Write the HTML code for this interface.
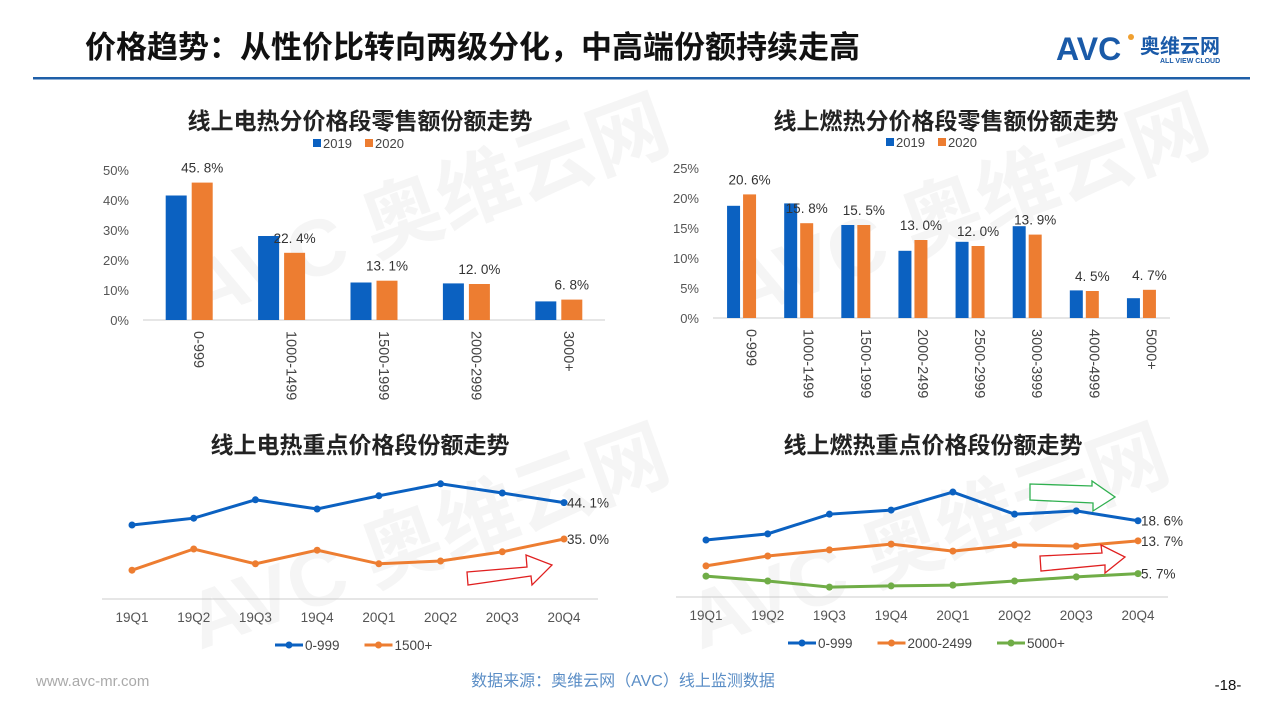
<!DOCTYPE html>
<html><head><meta charset="utf-8"><style>
html,body{margin:0;padding:0;background:#fff;width:1280px;height:720px;overflow:hidden}
svg{display:block;font-family:"Liberation Sans","Noto Sans CJK SC",sans-serif}
</style></head><body>
<svg id="s" width="1280" height="720" viewBox="0 0 1280 720">
<g fill="#e8e8e8" opacity="0.45" font-weight="bold">
<text x="200" y="320" font-size="80" transform="rotate(-20 200 320)">AVC 奥维云网</text>
<text x="740" y="320" font-size="80" transform="rotate(-20 740 320)">AVC 奥维云网</text>
<text x="200" y="650" font-size="80" transform="rotate(-20 200 650)">AVC 奥维云网</text>
<text x="700" y="650" font-size="80" transform="rotate(-20 700 650)">AVC 奥维云网</text>
</g>
<text x="85" y="58" font-size="31" font-weight="bold" fill="#111">价格趋势：从性价比转向两级分化，中高端份额持续走高</text>
<g>
<text x="1056" y="60" font-size="32" font-weight="bold" fill="#1a5aa8">AVC</text>
<circle cx="1131" cy="37" r="3" fill="#f0a030"/>
<text x="1140" y="53" font-size="20" font-weight="bold" fill="#1a5aa8">奥维云网</text>
<text x="1160" y="63" font-size="7" font-weight="bold" fill="#1a5aa8">ALL VIEW CLOUD</text>
</g>
<rect x="33" y="77" width="1217" height="2.5" fill="#1f5fa8"/>
<g id="charts"></g>
<text x="36" y="686" font-size="15" fill="#aaa">www.avc-mr.com</text>
<text x="623" y="686" font-size="16" fill="#5b8ec6" text-anchor="middle">数据来源：奥维云网（AVC）线上监测数据</text>
<text x="1228" y="690" font-size="15" fill="#111" text-anchor="middle">-18-</text>
</svg>
<script>
const tlCats=["0-999","1000-1499","1500-1999","2000-2999","3000+"];
const tl2019=[41.5,28,12.5,12.2,6.2];
const tl2020=[45.8,22.4,13.1,12.0,6.8];
const tlTicks=[0,10,20,30,40,50];
const trCats=["0-999","1000-1499","1500-1999","2000-2499","2500-2999","3000-3999","4000-4999","5000+"];
const tr2019=[18.7,19.1,15.5,11.2,12.7,15.3,4.6,3.3];
const tr2020=[20.6,15.8,15.5,13.0,12.0,13.9,4.5,4.7];
const trTicks=[0,5,10,15,20,25];
const quarters=["19Q1","19Q2","19Q3","19Q4","20Q1","20Q2","20Q3","20Q4"];
const blElec=[38.5,40.2,44.8,42.5,45.8,48.8,46.5,44.1];
const blElecHigh=[27.2,32.5,28.8,32.2,28.8,29.5,31.8,35.0];
const brGas=[13.9,15.4,20.2,21.2,25.6,20.2,21.0,18.6];
const brGasMid=[7.6,10.0,11.5,12.9,11.2,12.7,12.4,13.7];
const brGasHigh=[5.1,3.9,2.4,2.7,2.9,3.9,4.9,5.7];

const NS="http://www.w3.org/2000/svg";
const root=document.getElementById('charts');
function mk(tag,attrs,parent,text){const e=document.createElementNS(NS,tag);for(const k in attrs)e.setAttribute(k,attrs[k]);if(text!==undefined)e.textContent=text;(parent||root).appendChild(e);return e;}
const BLUE="#0b61c1",ORANGE="#ed7d31",GREEN="#70ad47";
function fmt(v){return v.toFixed(1).replace('.', '. ')+'%';}

function barChart(o){
  const g=mk('g',{});
  
  
  const t=mk('text',{x:o.tx,y:o.ty,'font-size':23,'font-weight':'bold','text-anchor':'middle',fill:'#222'},g,o.title);
  
  
  const y=v=>o.y0-v*o.ppu;
  const gw=(o.x1-o.x0)/o.cats.length;
  const x=i=>o.x0+gw*(i+0.5);
  o.ticks.forEach(tv=>{const e=mk('text',{x:o.x0-14,y:y(tv)+5,'font-size':13,'text-anchor':'end',fill:'#555'},g,tv+'%');
    
    });
  const ax=mk('line',{x1:o.x0,x2:o.x1,y1:o.y0,y2:o.y0,stroke:'#ccc','stroke-width':1},g);
  
  
  o.cats.forEach((c,i)=>{
    const cx=x(i);
    const b1=mk('rect',{x:cx-o.gap/2-o.bw,y:y(o.a[i]),width:o.bw,height:o.a[i]*o.ppu,fill:BLUE},g);
    
    
    const b2=mk('rect',{x:cx+o.gap/2,y:y(o.b[i]),width:o.bw,height:o.b[i]*o.ppu,fill:ORANGE},g);
    
    
    const l=mk('text',{x:cx+o.gap/2+o.bw/2,y:y(o.b[i])-10,'font-size':13.5,'text-anchor':'middle',fill:'#333'},g,fmt(o.b[i]));
    
    
    const xl=mk('text',{x:cx+5,y:o.y0+11,'font-size':14.5,fill:'#444',transform:`rotate(90 ${cx+5} ${o.y0+11})`},g,c);
    
    
  });
  const lg=mk('g',{},g);
  
  
  mk('rect',{x:o.lx,y:o.ly-9,width:8,height:8,fill:BLUE},lg);
  mk('text',{x:o.lx+10,y:o.ly,'font-size':13,fill:'#444'},lg,'2019');
  mk('rect',{x:o.lx+52,y:o.ly-9,width:8,height:8,fill:ORANGE},lg);
  mk('text',{x:o.lx+62,y:o.ly,'font-size':13,fill:'#444'},lg,'2020');
}
barChart({name:'online-electric-share-chart',title:'线上电热分价格段零售额份额走势',tx:360,ty:129,cats:tlCats,a:tl2019,b:tl2020,ticks:tlTicks,x0:143,x1:605,y0:320,ppu:3,bw:21,gap:5,lx:313,ly:148});
barChart({name:'online-gas-share-chart',title:'线上燃热分价格段零售额份额走势',tx:946,ty:129,cats:trCats,a:tr2019,b:tr2020,ticks:trTicks,x0:713,x1:1170,y0:318,ppu:6,bw:13,gap:3,lx:886,ly:147});

function lineChart(o){
  const g=mk('g',{});
  
  
  const t=mk('text',{x:o.tx,y:o.ty,'font-size':23,'font-weight':'bold','text-anchor':'middle',fill:'#222'},g,o.title);
  
  
  const step=(o.xl-o.xf)/(quarters.length-1);
  const x=i=>o.xf+i*step;
  const y=v=>o.y0-(v-o.vmin)*o.ppu;
  const ax=mk('line',{x1:o.ax0,x2:o.ax1,y1:o.y0,y2:o.y0,stroke:'#ccc','stroke-width':1},g);
  
  
  quarters.forEach((q,i)=>{const e=mk('text',{x:x(i),y:o.y0+23,'font-size':13.5,'text-anchor':'middle',fill:'#555'},g,q);
    
    });
  o.series.forEach(s=>{
    const sg=mk('g',{},g);
    
    
    mk('polyline',{points:s.data.map((v,i)=>x(i)+','+y(v)).join(' '),fill:'none',stroke:s.color,'stroke-width':3},sg);
    s.data.forEach((v,i)=>{const c=mk('circle',{cx:x(i),cy:y(v),r:3.5,fill:s.color},sg);
      
      });
    const n=s.data.length-1;
    const l=mk('text',{x:x(n)+3,y:y(s.data[n])+5,'font-size':13.5,fill:'#333'},sg,fmt(s.data[n]));
    
    
  });
  const lg=mk('g',{},g);
  
  
  let lx=o.lx;
  o.series.forEach(s=>{
    mk('line',{x1:lx,x2:lx+28,y1:o.ly-5,y2:o.ly-5,stroke:s.color,'stroke-width':3},lg);
    mk('circle',{cx:lx+14,cy:o.ly-5,r:3.5,fill:s.color},lg);
    mk('text',{x:lx+30,y:o.ly,'font-size':13.5,fill:'#444'},lg,s.label);
    lx+=30+s.label.length*7.5+22;
  });
}
lineChart({name:'online-electric-key-price-chart',title:'线上电热重点价格段份额走势',tx:360,ty:453,xf:132,xl:564,ax0:102,ax1:598,y0:599,vmin:20,ppu:4,lx:275,ly:650,
  series:[{label:'0-999',data:blElec,color:BLUE},{label:'1500+',data:blElecHigh,color:ORANGE}]});
lineChart({name:'online-gas-key-price-chart',title:'线上燃热重点价格段份额走势',tx:933,ty:453,xf:706,xl:1138,ax0:676,ax1:1168,y0:597,vmin:0,ppu:4.1,lx:788,ly:648,
  series:[{label:'0-999',data:brGas,color:BLUE},{label:'2000-2499',data:brGasMid,color:ORANGE},{label:'5000+',data:brGasHigh,color:GREEN}]});

function arrow(pts,color,name){const p=mk('polygon',{points:pts,fill:'#fff',stroke:color,'stroke-width':1.3});
  
  }
arrow('467,572 527,567 526,555 552,565 532,585 531,576 468,585','#e02020','growth-arrow-electric');
arrow('1030,484 1092,486 1092,481 1115,497 1093,511 1093,503 1030,500','#30b050','flat-arrow-gas');
arrow('1040,556 1102,553 1101,545 1125,557 1105,573 1105,565 1041,571','#e02020','growth-arrow-gas');
</script>
</body></html>
